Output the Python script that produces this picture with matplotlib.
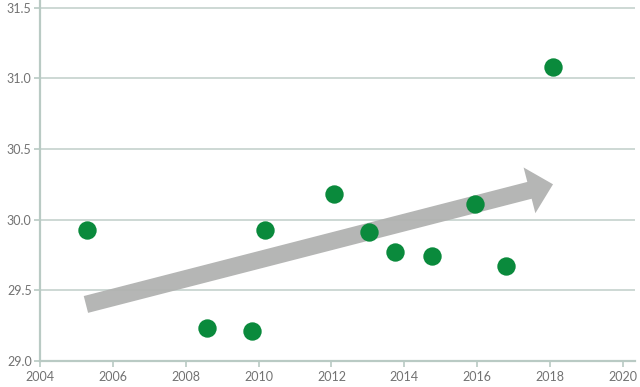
import matplotlib
matplotlib.use("Agg")
import matplotlib.pyplot as plt
from matplotlib.patches import FancyArrowPatch, ArrowStyle

years = [2005.29, 2008.58, 2009.82, 2010.17, 2012.07, 2013.03, 2013.74, 2014.76, 2015.94, 2016.79, 2018.08]
values = [29.93, 29.23, 29.21, 29.93, 30.18, 29.91, 29.77, 29.74, 30.11, 29.67, 31.08]
trend_start = (2005.26, 29.40)
trend_end = (2018.08, 30.25)
xticks = [2004, 2006, 2008, 2010, 2012, 2014, 2016, 2018, 2020]
yticks = [29.0, 29.5, 30.0, 30.5, 31.0, 31.5]

plt.rcParams['font.family'] = ['Lato', 'DejaVu Sans']
fig = plt.figure(figsize=(6.4, 3.87), dpi=100)
ax = fig.add_axes([40/640, 1-361/387, (635-40)/640, (361-0.5)/387])

grid_c = '#c9d6d1'
spine_c = '#b9cac4'
ax.set_xlim(2004, 2020.33)
ax.set_ylim(29.0, 31.55)
ax.set_xticks(xticks)
ax.set_yticks(yticks)
ax.set_yticklabels([f"{v:.1f}" for v in yticks])
for s in ['top', 'right']:
    ax.spines[s].set_visible(False)
for s in ['left', 'bottom']:
    ax.spines[s].set_color(spine_c)
    ax.spines[s].set_linewidth(1.6)
ax.tick_params(axis='both', colors=spine_c, labelcolor='#727272', labelsize=9, length=4, width=1.2)
ax.tick_params(axis='y', pad=2)
ax.tick_params(axis='x', pad=3)
for v in yticks[1:]:
    ax.axhline(v, color=grid_c, lw=1.3, zorder=0)

arrow = FancyArrowPatch(trend_start, trend_end,
                        arrowstyle=ArrowStyle.Simple(head_length=17.5, head_width=34, tail_width=12.5),
                        mutation_scale=1, shrinkA=0, shrinkB=0,
                        color='#b1b2b1', lw=0, zorder=2, alpha=0.95)
ax.add_patch(arrow)

ax.scatter(years, values, s=175, color='#0a8a3c', zorder=3, linewidths=0)

fig.savefig('out.png', dpi=100)
